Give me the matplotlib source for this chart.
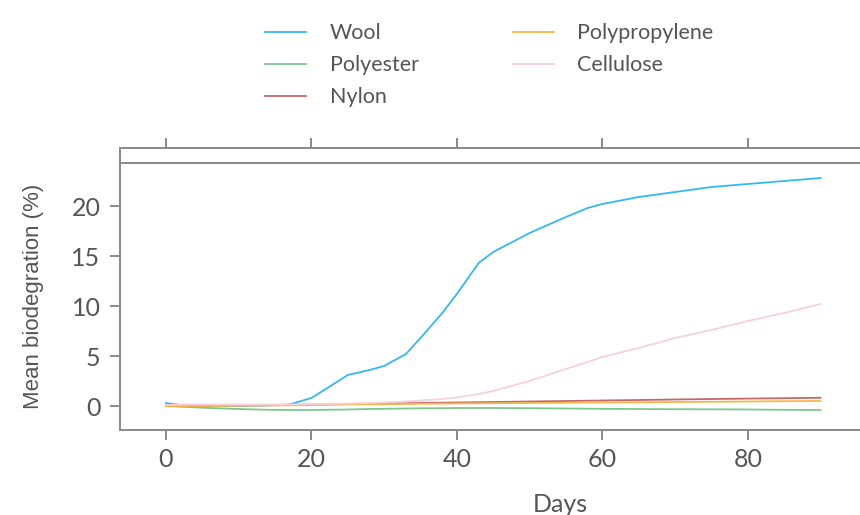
import matplotlib.pyplot as plt

# data (days, mean biodegradation %)
days = [0, 3, 6, 10, 14, 17, 20, 22, 25, 28, 30, 33, 35, 38, 40, 43, 45, 50, 55, 58,
        60, 65, 70, 75, 80, 85, 90]
wool = [0.3, 0.0, 0.0, 0.0, 0.05, 0.15, 0.8, 1.7, 3.1, 3.6, 4.0, 5.2, 6.8, 9.3, 11.2,
        14.3, 15.4, 17.3, 18.9, 19.8, 20.2, 20.9, 21.4, 21.9, 22.2, 22.5, 22.8]
cellulose = [0.1, 0.15, 0.15, 0.15, 0.15, 0.15, 0.2, 0.2, 0.25, 0.3, 0.35, 0.45, 0.55,
             0.7, 0.85, 1.2, 1.5, 2.5, 3.7, 4.4, 4.9, 5.8, 6.8, 7.6, 8.5, 9.3, 10.2]
nylon = [0.0, 0.0, 0.05, 0.08, 0.1, 0.12, 0.15, 0.17, 0.2, 0.22, 0.25, 0.28, 0.3, 0.33,
         0.35, 0.38, 0.4, 0.45, 0.5, 0.53, 0.55, 0.6, 0.65, 0.7, 0.74, 0.78, 0.82]
polypropylene = [0.0, 0.0, 0.0, 0.03, 0.05, 0.07, 0.1, 0.12, 0.15, 0.17, 0.18, 0.2, 0.22,
                 0.24, 0.25, 0.27, 0.28, 0.3, 0.33, 0.35, 0.36, 0.38, 0.4, 0.42, 0.45, 0.48, 0.5]
polyester = [0.0, -0.1, -0.2, -0.3, -0.38, -0.4, -0.4, -0.38, -0.35, -0.3, -0.28, -0.25,
             -0.23, -0.22, -0.2, -0.2, -0.2, -0.22, -0.25, -0.27, -0.28, -0.3, -0.32,
             -0.33, -0.35, -0.38, -0.4]

series = [("Wool", wool, "#35B8F0"),
          ("Polyester", polyester, "#7DC78C"),
          ("Nylon", nylon, "#C4686B"),
          ("Polypropylene", polypropylene, "#F2B94A"),
          ("Cellulose", cellulose, "#F8CFDA")]

plt.rcParams['font.family'] = ['Lato', 'DejaVu Sans']
grey = "#8a8a8a"
txt = "#555555"

W, H = 860, 515
fig = plt.figure(figsize=(8.6, 5.15), dpi=100)

# main panel (extends past the right edge like the reference)
left, right = 120, 1000
ax = fig.add_axes([left / W, 1 - 430 / H, (right - left) / W, (430 - 163) / H])
# strip above panel
sx = fig.add_axes([left / W, 1 - 163 / H, (right - left) / W, 15 / H])

x0 = -6.3
xscale = (748 - 166) / 80.0
x1 = x0 + (right - left) / xscale

for name, vals, col in series:
    ax.plot(days, vals, color=col, lw=1.3, label=name)

ax.set_xlim(x0, x1)
ax.set_ylim(-2.4, 24.3)
ax.set_xticks([0, 20, 40, 60, 80])
ax.set_yticks([0, 5, 10, 15, 20])
ax.tick_params(colors=grey, labelcolor=txt, labelsize=18, length=7, width=1.4, pad=7)
ax.tick_params(axis='x', pad=6)
for sp in ax.spines.values():
    sp.set_color(grey)
    sp.set_linewidth(1.4)
ax.spines['right'].set_visible(False)
ax.set_ylabel("Mean biodegration (%)", fontsize=16, color=txt, labelpad=20,
              family=['Liberation Sans', 'DejaVu Sans'])
ax.set_xlabel("Days", fontsize=18, color=txt, labelpad=16)

sx.set_xlim(x0, x1)
sx.set_ylim(0, 1)
sx.set_xticks([0, 20, 40, 60, 80])
sx.set_yticks([])
sx.tick_params(axis='x', bottom=False, labelbottom=False, top=True, colors=grey,
               length=7, width=1.4)
for sp in sx.spines.values():
    sp.set_color(grey)
    sp.set_linewidth(1.4)
sx.spines['right'].set_visible(False)

leg = fig.legend(loc='upper left', bbox_to_anchor=(246 / W, 1 - 4 / H), ncol=2,
                 frameon=False, fontsize=15.5, handlelength=1.9, handletextpad=1.1,
                 columnspacing=4.35, labelspacing=0.55)
for t in leg.get_texts():
    t.set_color(txt)

fig.savefig("out.png", dpi=100)
